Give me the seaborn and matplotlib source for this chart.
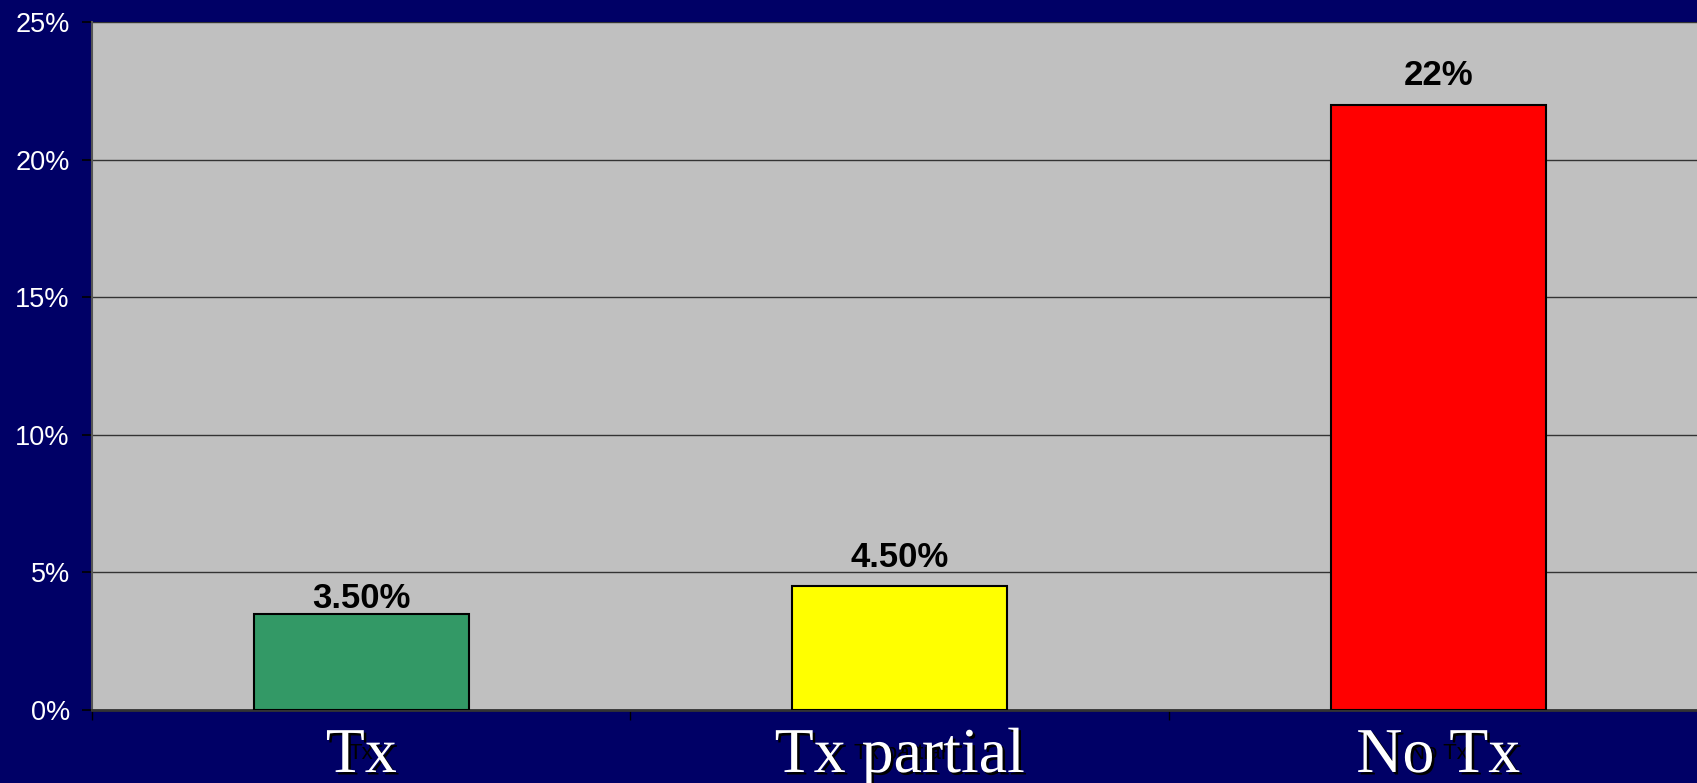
import matplotlib
matplotlib.use("Agg")
import matplotlib.pyplot as plt
import matplotlib.patheffects as pe
import seaborn as sns
import pandas as pd

categories = ["Tx", "Tx partial", "No Tx"]
rates = [3.5, 4.5, 22.0]
value_labels = ["3.50%", "4.50%", "22%"]
bar_colors = ["#339966", "#FFFF00", "#FF0000"]
y_ticks = [0, 5, 10, 15, 20, 25]
y_tick_labels = ["0%", "5%", "10%", "15%", "20%", "25%"]

df = pd.DataFrame({"group": categories, "rate": rates})

navy = "#000066"
fig = plt.figure(figsize=(16.97, 7.83), dpi=100, facecolor=navy)
ax = fig.add_axes([92 / 1697, 73 / 783, 1615.5 / 1697, 688 / 783])
ax.set_facecolor("#C0C0C0")

sns.barplot(data=df, x="group", y="rate", hue="group", palette=bar_colors,
            saturation=1, width=0.4, edgecolor="black", linewidth=1.5,
            legend=False, ax=ax, zorder=3)

ax.set_xlim(-0.5, 2.5)
ax.set_ylim(0, 25)
ax.set_yticks(y_ticks)
ax.set_yticklabels(y_tick_labels, color="white", fontsize=19.5,
                   fontfamily="Liberation Sans")
ax.tick_params(axis="y", length=7, width=1.2, color="black", pad=9)
ax.yaxis.grid(True, color="#333333", linewidth=1)
ax.set_axisbelow(True)

# small black category names, mostly hidden under the big white ones
ax.set_xticks(range(len(categories)))
ax.set_xticklabels(categories, color="black", fontsize=16,
                   fontfamily="Liberation Sans")
ax.tick_params(axis="x", which="major", length=0, pad=24)
ax.set_xticks([-0.5, 0.5, 1.5, 2.5], minor=True)
ax.tick_params(axis="x", which="minor", length=7, width=1, color="black")
ax.set_xlabel("")
ax.set_ylabel("")

for side in ["top", "right"]:
    ax.spines[side].set_visible(False)
ax.spines["left"].set_color("#555555")
ax.spines["left"].set_linewidth(1.5)
ax.spines["bottom"].set_color("#333333")
ax.spines["bottom"].set_linewidth(2)

# value labels above bars
offsets = [4, 14, 14]
for i, (v, lab) in enumerate(zip(rates, value_labels)):
    ax.annotate(lab, (i, v), xytext=(0, offsets[i]), textcoords="offset points",
                ha="center", va="baseline", fontsize=25, fontweight="bold",
                fontfamily="Liberation Sans", color="black", zorder=5)

# big white serif category names with a drop shadow
shadow = [pe.SimplePatchShadow(offset=(1.8, -1.8), shadow_rgbFace="black", alpha=1),
          pe.Normal()]
for i, cat in enumerate(categories):
    ax.text(i, -62 / 688, cat, transform=ax.get_xaxis_transform(),
            ha="center", va="baseline", fontsize=46, color="white",
            fontfamily="Liberation Serif", clip_on=False, zorder=6,
            path_effects=shadow)

fig.savefig("out.png", dpi=100, facecolor=navy)
